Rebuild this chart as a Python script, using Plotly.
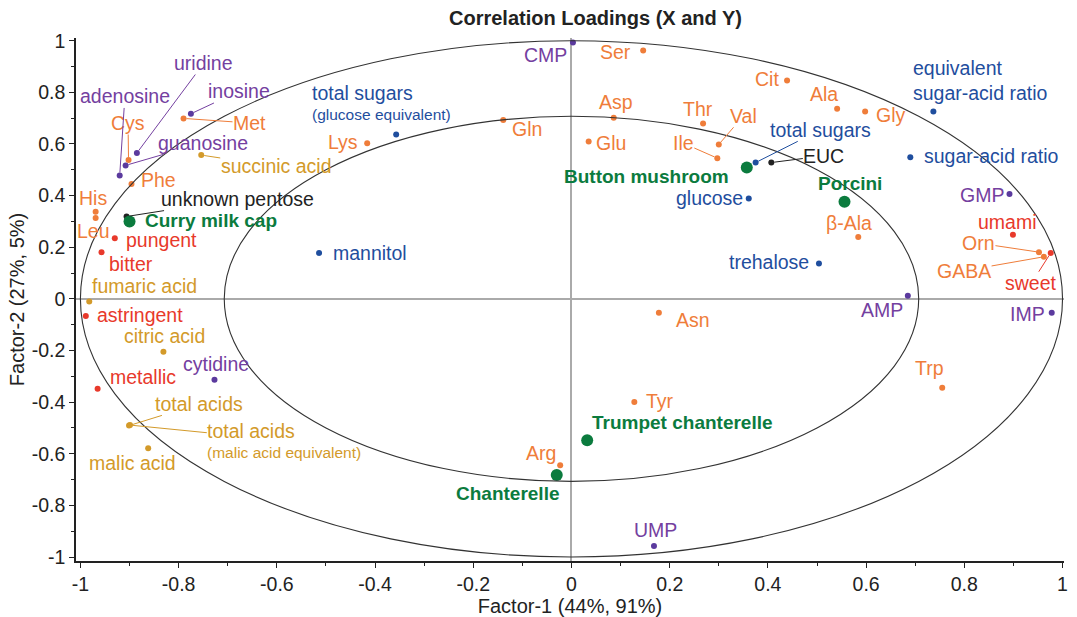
import plotly.graph_objects as go

# ---------------- data (correlation loadings) ----------------
amino_names = ["Ser", "Cit", "Ala", "Gly", "Asp", "Thr", "Val", "Ile", "Glu", "Gln", "Lys", "Met",
               "Cys", "Phe", "His", "Leu", "β-Ala", "Orn", "GABA", "Asn", "Tyr", "Arg", "Trp"]
amino_x = [0.146, 0.439, 0.541, 0.598, 0.086, 0.268, 0.300, 0.297, 0.035, -0.139, -0.416, -0.790,
           -0.902, -0.896, -0.969, -0.969, 0.584, 0.952, 0.962, 0.178, 0.128, -0.023, 0.755]
amino_y = [0.962, 0.846, 0.736, 0.726, 0.702, 0.679, 0.598, 0.545, 0.610, 0.693, 0.603, 0.699,
           0.538, 0.445, 0.337, 0.313, 0.240, 0.181, 0.163, -0.054, -0.400, -0.645, -0.344]

nucl_names = ["CMP", "uridine", "inosine", "guanosine", "adenosine", "GMP", "AMP", "IMP", "cytidine", "UMP"]
nucl_x = [0.003, -0.885, -0.775, -0.908, -0.920, 0.892, 0.685, 0.978, -0.727, 0.168]
nucl_y = [0.993, 0.565, 0.717, 0.517, 0.478, 0.406, 0.012, -0.054, -0.313, -0.957]

sugar_names = ["total sugars (glucose equivalent)", "equivalent sugar-acid ratio", "sugar-acid ratio",
               "total sugars", "glucose", "trehalose", "mannitol"]
sugar_x = [-0.357, 0.737, 0.690, 0.375, 0.361, 0.504, -0.514]
sugar_y = [0.637, 0.726, 0.549, 0.528, 0.389, 0.137, 0.178]

acid_names = ["succinic acid", "fumaric acid", "citric acid", "total acids",
              "total acids (malic acid equivalent)", "malic acid"]
acid_x = [-0.754, -0.982, -0.831, -0.901, -0.899, -0.862]
acid_y = [0.557, -0.010, -0.205, -0.491, -0.489, -0.579]

taste_names = ["pungent", "bitter", "astringent", "metallic", "umami", "sweet"]
taste_x = [-0.930, -0.957, -0.989, -0.965, 0.899, 0.976]
taste_y = [0.235, 0.181, -0.066, -0.348, 0.248, 0.178]

other_names = ["unknown pentose", "EUC"]
other_x = [-0.906, 0.407]
other_y = [0.319, 0.528]

sample_names = ["Curry milk cap", "Button mushroom", "Porcini", "Trumpet chanterelle", "Chanterelle"]
sample_x = [-0.900, 0.357, 0.556, 0.032, -0.030]
sample_y = [0.300, 0.509, 0.376, -0.548, -0.682]

tick_vals = [-1, -0.8, -0.6, -0.4, -0.2, 0, 0.2, 0.4, 0.6, 0.8, 1]
tick_text = ["-1", "-0.8", "-0.6", "-0.4", "-0.2", "0", "0.2", "0.4", "0.6", "0.8", "1"]
circle_radii = [1.0, 0.5 ** 0.5]

# ---------------- styling ----------------
FONT = "Arial, 'Liberation Sans', Helvetica, sans-serif"
ORANGE, PURPLE, PURPLE_DOT, BLUE = "#EF7D3A", "#7440A0", "#5B3A9E", "#1F4E9E"
GOLD, RED, BLACK, GREEN = "#D39A2A", "#E8392B", "#222222", "#0B7B3E"
LABEL_SIZE = 19.5

groups = [
    (amino_names, amino_x, amino_y, ORANGE, ORANGE, 6),
    (nucl_names, nucl_x, nucl_y, PURPLE_DOT, PURPLE, 6),
    (sugar_names, sugar_x, sugar_y, BLUE, BLUE, 6),
    (acid_names, acid_x, acid_y, GOLD, GOLD, 6),
    (taste_names, taste_x, taste_y, RED, RED, 6),
    (other_names, other_x, other_y, BLACK, BLACK, 6),
    (sample_names, sample_x, sample_y, GREEN, GREEN, 12),
]

# two-line labels: (text, base font size)
display = {
    "total sugars (glucose equivalent)":
        ("<span style='font-size:19.5px'>total sugars</span><br>(glucose equivalent)", 15.5),
    "equivalent sugar-acid ratio": ("equivalent<br>sugar-acid ratio", 19.5),
    "total acids (malic acid equivalent)":
        ("<span style='font-size:19.5px'>total acids</span><br>(malic acid equivalent)", 15.5),
}

# label placement: (kind, xanchor, dx, dy) in pixels, dy positive = downward
place = {
    "Ser": ("t", "right", -11, 1), "Cit": ("t", "right", -7, -1.4), "Ala": ("t", "center", -13, -14.7),
    "Gly": ("t", "left", 9.7, 3.3), "Asp": ("t", "center", 2, -15.3), "Thr": ("t", "center", -5, -14.4),
    "Val": ("a", None, 24.7, -28.7), "Ile": ("a", None, -34, -15), "Glu": ("t", "left", 6.5, 1.8),
    "Gln": ("t", "left", 7.4, 8.7), "Lys": ("t", "right", -7.7, -1.6), "Met": ("a", None, 66, 4.6),
    "Cys": ("a", None, -0.5, -37), "Phe": ("t", "left", 9, -3.6), "His": ("t", "center", -2.2, -13.7),
    "Leu": ("t", "center", -2, 13.4), "β-Ala": ("t", "center", -9, -13.7), "Orn": ("a", None, -60.5, -9),
    "GABA": ("a", None, -79.8, 14), "Asn": ("t", "left", 16, 7), "Tyr": ("t", "left", 10.7, -1),
    "Arg": ("t", "right", -3.3, -12), "Trp": ("t", "center", -12.7, -19.4),
    "CMP": ("t", "right", -5.3, 12.3), "uridine": ("a", None, 67, -90), "inosine": ("a", None, 47.6, -22.3),
    "guanosine": ("a", None, 76.9, -22.4), "adenosine": ("a", None, 5.2, -79), "GMP": ("t", "right", -4, 1.4),
    "AMP": ("t", "right", -4, 14.7), "IMP": ("t", "right", -5.6, 1.3), "cytidine": ("t", "center", 1.9, -15.4),
    "UMP": ("t", "center", 1.5, -16),
    "total sugars (glucose equivalent)": ("t", "left", -85, -32),
    "equivalent sugar-acid ratio": ("t", "left", -21.7, -31.4),
    "sugar-acid ratio": ("t", "left", 12.3, -1.3), "total sugars": ("a", None, 65, -32.7),
    "glucose": ("t", "right", -5, 0), "trehalose": ("t", "right", -8.6, -1), "mannitol": ("t", "left", 13.3, 0.3),
    "succinic acid": ("a", None, 75, 11.4), "fumaric acid": ("t", "left", 2, -15.7),
    "citric acid": ("t", "center", 1.4, -16), "total acids": ("a", None, 70, -21.7),
    "total acids (malic acid equivalent)": ("a", None, 154.3, 15.3), "malic acid": ("t", "center", -15.2, 15),
    "pungent": ("t", "left", 10, 1.7), "bitter": ("t", "left", 6.4, 12), "astringent": ("t", "left", 9.7, -1),
    "metallic": ("t", "left", 11, -11.4), "umami": ("t", "center", -5.5, -13.3), "sweet": ("a", None, -19.3, 30.3),
    "unknown pentose": ("a", None, 110.5, -17.4), "EUC": ("a", None, 52.5, -6.7),
    "Curry milk cap": ("t", "left", 14.7, -0.7), "Button mushroom": ("t", "right", -17, 9),
    "Porcini": ("t", "center", 5.3, -18), "Trumpet chanterelle": ("t", "left", 3.4, -18.0),
    "Chanterelle": ("t", "right", 3.7, 19),
}

fig = go.Figure()
annotations = []
for names, xs, ys, dot_col, txt_col, size in groups:
    fig.add_trace(go.Scatter(x=xs, y=ys, mode="markers", text=names, hoverinfo="text",
                             marker=dict(color=dot_col, size=size, line=dict(width=0)),
                             showlegend=False))
    is_sample = names is sample_names
    for n, xv, yv in zip(names, xs, ys):
        kind, anchor, dx, dy = place[n]
        txt, fsize = display.get(n, (n, LABEL_SIZE))
        if is_sample:
            txt, fsize = "<b>" + txt + "</b>", 19
        fnt = dict(family=FONT, size=fsize, color=txt_col)
        if kind == "t":
            annotations.append(dict(x=xv, y=yv, xref="x", yref="y", text=txt, showarrow=False,
                                    xanchor=anchor, yanchor="middle", xshift=dx, yshift=-dy,
                                    align="left", font=fnt, borderpad=0))
        else:
            annotations.append(dict(x=xv, y=yv, xref="x", yref="y", text=txt, showarrow=True,
                                    ax=dx, ay=dy, arrowhead=0, arrowwidth=1, arrowcolor=txt_col,
                                    standoff=3, align="left", font=fnt, borderpad=0))

shapes = []
for r in circle_radii:
    shapes.append(dict(type="circle", xref="x", yref="y", x0=-r, x1=r, y0=-r, y1=r,
                       line=dict(color="#333333", width=1.1), layer="above"))

axis_common = dict(
    tickmode="array", tickvals=tick_vals, ticktext=tick_text,
    ticks="outside", ticklen=5, tickwidth=1.3, tickcolor="#222",
    minor=dict(dtick=0.1, ticks="outside", ticklen=3, tickwidth=1.3, tickcolor="#222"),
    showline=True, linecolor="#222", linewidth=1.5, showgrid=False,
    zeroline=True, zerolinecolor="#AAAAAA", zerolinewidth=1.5,
    tickfont=dict(family=FONT, size=19.5, color="#222"), automargin=False,
)

fig.update_layout(
    width=1077, height=617,
    margin=dict(l=76, r=13, t=38, b=56),
    paper_bgcolor="white", plot_bgcolor="white",
    title=dict(text="<b>Correlation Loadings (X and Y)</b>", x=595.5 / 1077, xanchor="center",
               y=1 - 17.5 / 617, yanchor="middle", font=dict(family=FONT, size=20, color="#222")),
    xaxis=dict(range=[-1.009, 1.003], title=dict(text="Factor-1 (44%, 91%)", standoff=0,
               font=dict(family=FONT, size=20, color="#222")), **axis_common),
    yaxis=dict(range=[-1.0155, 1.0105], title=dict(text="Factor-2 (27%, 5%)", standoff=2,
               font=dict(family=FONT, size=20, color="#222")), **axis_common),
    annotations=annotations, shapes=shapes,
    font=dict(family=FONT),
)

fig.write_html("out.html")
